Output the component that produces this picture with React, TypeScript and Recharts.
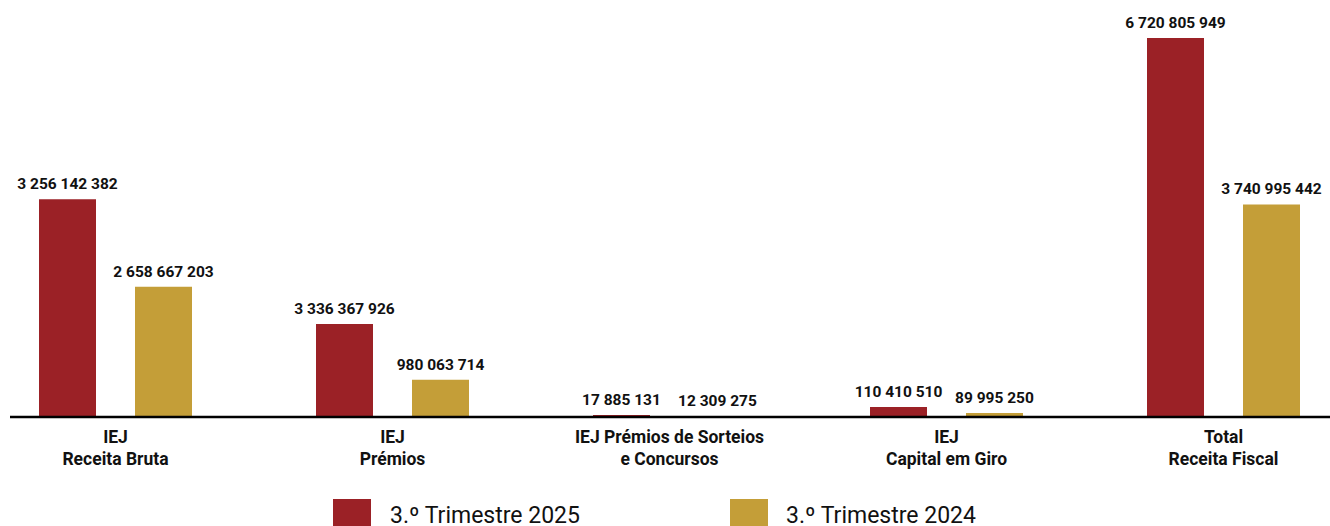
import React from "react";
import { BarChart, Bar, XAxis, YAxis, LabelList } from "recharts";

// categories (line break = second line of the axis label)
const categories = [
  "IEJ\nReceita Bruta",
  "IEJ\nPrémios",
  "IEJ Prémios de Sorteios\ne Concursos",
  "IEJ\nCapital em Giro",
  "Total\nReceita Fiscal",
];

// printed values above the bars
const labels2025 = ["3 256 142 382", "3 336 367 926", "17 885 131", "110 410 510", "6 720 805 949"];
const labels2024 = ["2 658 667 203", "980 063 714", "12 309 275", "89 995 250", "3 740 995 442"];

// bar lengths as drawn in the picture (billions) - the source bars are not to scale with the printed values
const drawn2025 = [3.86, 1.65, 0.036, 0.178, 6.72];
const drawn2024 = [2.31, 0.66, 0.018, 0.071, 3.77];

const series = ["3.º Trimestre 2025", "3.º Trimestre 2024"];

const RED = "#9b2126";
const GOLD = "#c49e38";
const INK = "#111111";
const FONT = "Roboto, 'Noto Sans', sans-serif";

const chartData = categories.map((name, i) => ({
  name,
  y2025: drawn2025[i],
  y2024: drawn2024[i],
  l2025: labels2025[i],
  l2024: labels2024[i],
}));

const CategoryTick = (props: any) => {
  const { x, y, payload } = props;
  const lines = String(payload.value).split("\n");
  return (
    <text
      x={x}
      y={y}
      textAnchor="middle"
      fill={INK}
      fontFamily={FONT}
      fontSize={17.5}
      fontWeight={700}
    >
      {lines.map((line, i) => (
        <tspan key={i} x={x} dy={i === 0 ? 18 : 22}>
          {line}
        </tspan>
      ))}
    </text>
  );
};

// value label above a bar, kept on one line
const ValueLabel = (props: any) => {
  const { x, y, width, value } = props;
  return (
    <text
      x={Number(x) + Number(width) / 2}
      y={Number(y) - 10}
      textAnchor="middle"
      fill={INK}
      fontFamily={FONT}
      fontSize={15.5}
      fontWeight={700}
    >
      {value}
    </text>
  );
};

export default function App() {
  return (
    <div
      style={{
        position: "absolute",
        left: 0,
        top: 0,
        width: 1330,
        height: 526,
        overflow: "hidden",
        background: "#fff",
        fontFamily: FONT,
      }}
    >
      <div style={{ clipPath: "inset(0 0 0 10px)" }}>
        <BarChart
          width={1330}
          height={526}
          data={chartData}
          margin={{ top: 38, right: -32, left: -23, bottom: 49 }}
          barSize={57}
          barGap={39}
        >
          <XAxis
            dataKey="name"
            height={60}
            tickLine={false}
            axisLine={{ stroke: "#000", strokeWidth: 2.5 }}
            tick={<CategoryTick />}
            interval={0}
          />
          <YAxis hide domain={[0, "dataMax"]} />
          <Bar dataKey="y2025" fill={RED} isAnimationActive={false}>
            <LabelList dataKey="l2025" content={<ValueLabel />} />
          </Bar>
          <Bar dataKey="y2024" fill={GOLD} isAnimationActive={false}>
            <LabelList dataKey="l2024" content={<ValueLabel />} />
          </Bar>
        </BarChart>
      </div>

      {/* legend */}
      {[RED, GOLD].map((c, i) => (
        <div key={i}>
          <div
            style={{
              position: "absolute",
              left: i === 0 ? 333 : 730,
              top: 499,
              width: 38,
              height: 38,
              background: c,
            }}
          />
          <div
            style={{
              position: "absolute",
              left: i === 0 ? 390 : 786,
              top: 504,
              fontSize: 23,
              lineHeight: "23px",
              color: INK,
              whiteSpace: "nowrap",
            }}
          >
            {series[i]}
          </div>
        </div>
      ))}
    </div>
  );
}
